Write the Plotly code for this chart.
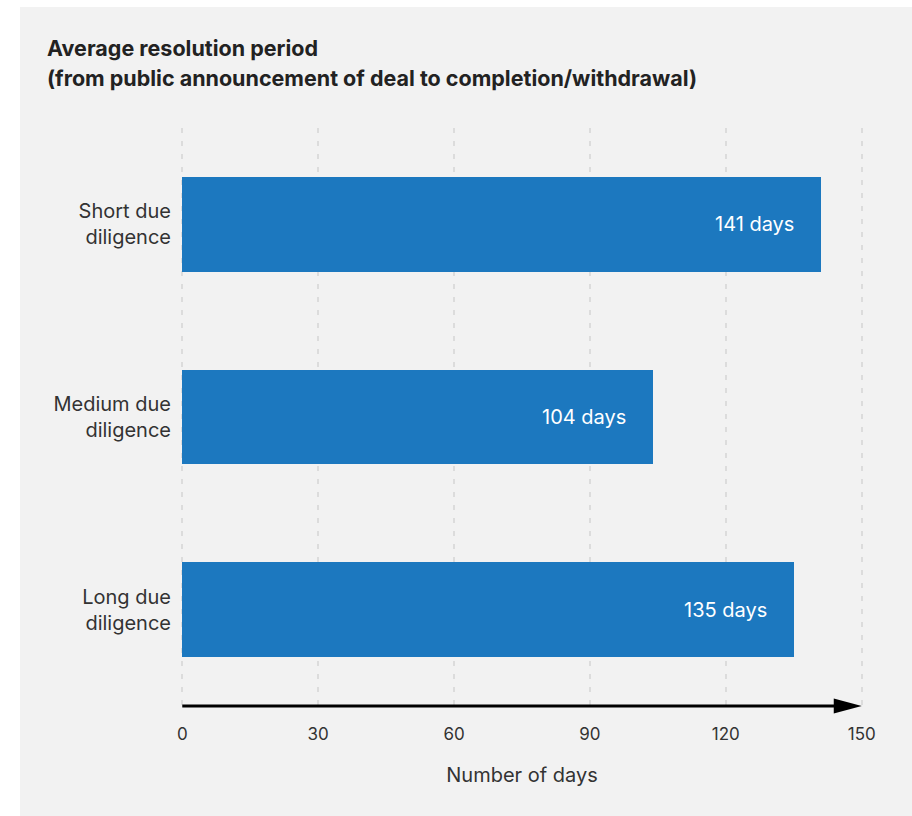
import plotly.graph_objects as go

# Data
categories = ["Short due<br>diligence", "Medium due<br>diligence", "Long due<br>diligence"]
days = [141, 104, 135]
tick_values = [0, 30, 60, 90, 120, 150]
tick_labels = ["0", "30", "60", "90", "120", "150"]
title_lines = [
    "Average resolution period",
    "(from public announcement of deal to completion/withdrawal)",
]
x_title = "Number of days"

BAR_COLOR = "#1c78bf"
PANEL = "#f2f2f2"
FONT = "Inter, Roboto, sans-serif"

# Figure geometry (pixels); the x range has a small pad so edge gridlines show
W, H = 912, 816
X_RANGE = [-0.5, 150.5]
ML, MR, MT, MB = 180, 48, 128, 110
PW, PH = W - ML - MR, H - MT - MB


def px_x(p):
    return (p - ML) / PW


def px_y(p):
    return (H - MB - p) / PH


fig = go.Figure()
fig.add_trace(go.Bar(
    x=days,
    y=categories,
    orientation="h",
    marker=dict(color=BAR_COLOR, line=dict(width=0)),
    width=0.49,
    hoverinfo="skip",
))

# Grey panel behind the chart
fig.add_shape(
    type="rect", xref="paper", yref="paper",
    x0=px_x(20), x1=px_x(W + 5), y0=px_y(H + 5), y1=px_y(7),
    fillcolor=PANEL, line=dict(width=0), layer="below",
)

# Value labels inside the bar ends
for c, v in zip(categories, days):
    fig.add_annotation(
        x=v, y=c, xref="x", yref="y", text=f"{v} days",
        showarrow=False, xanchor="right", xshift=-25,
        font=dict(family=FONT, size=20, color="white"),
    )

# Horizontal axis: a line from the first to the last tick with an arrowhead
fig.add_shape(
    type="line", xref="x", yref="paper",
    x0=tick_values[0], x1=tick_values[-1] - 3, y0=0, y1=0,
    line=dict(color="black", width=2.8),
)
fig.add_shape(
    type="path", xref="x", yref="paper",
    xsizemode="pixel", ysizemode="pixel",
    xanchor=tick_values[-1], yanchor=0,
    path="M-28,-7.5 L0,0 L-28,7.5 Z",
    fillcolor="black", line=dict(width=0),
)

# Two-line heading
for text, py in zip(title_lines, [48, 78]):
    fig.add_annotation(
        x=px_x(45), y=px_y(py), xref="paper", yref="paper", text=f"<b>{text}</b>",
        showarrow=False, xanchor="left", yanchor="middle",
        font=dict(family=FONT, size=21.5, color="#222222"),
    )

fig.update_layout(
    width=W, height=H,
    margin=dict(l=ML, r=MR, t=MT, b=MB, pad=0),
    paper_bgcolor="white",
    plot_bgcolor=PANEL,
    showlegend=False,
    bargap=0,
    font=dict(family=FONT, color="#333333"),
)
fig.update_xaxes(
    range=X_RANGE,
    tickvals=tick_values, ticktext=tick_labels,
    showgrid=True, gridcolor="#dcdcdc", gridwidth=2, griddash="5px,8px",
    zeroline=False, showline=False,
    ticks="outside", ticklen=13, tickcolor="rgba(0,0,0,0)",
    tickfont=dict(family=FONT, size=17, color="#333333"),
    title=dict(text=x_title, standoff=24, font=dict(family=FONT, size=20, color="#333333")),
    fixedrange=True,
)
fig.update_yaxes(
    categoryorder="array", categoryarray=categories,
    range=[2.5, -0.5],
    showgrid=False, zeroline=False, showline=False,
    ticks="outside", ticklen=4, tickcolor="rgba(0,0,0,0)",
    tickfont=dict(family=FONT, size=20, color="#333333"),
    fixedrange=True,
)

fig.write_html("out.html")
